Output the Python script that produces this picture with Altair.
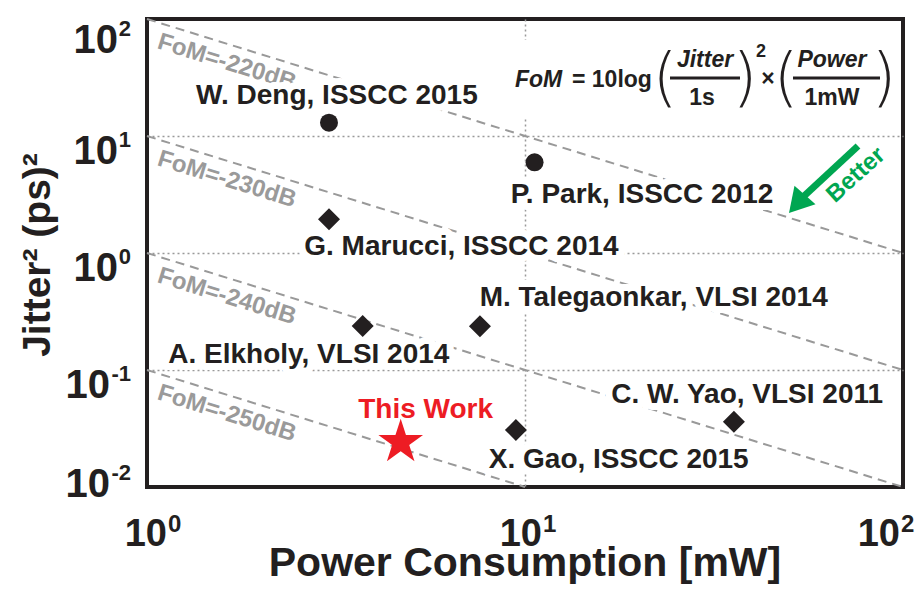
import altair as alt
import pandas as pd

# ---------------- data ----------------
names = ["W. Deng, ISSCC 2015", "P. Park, ISSCC 2012", "G. Marucci, ISSCC 2014",
         "A. Elkholy, VLSI 2014", "M. Talegaonkar, VLSI 2014", "X. Gao, ISSCC 2015",
         "C. W. Yao, VLSI 2011", "This Work"]
power_mw = [3.03, 10.6, 3.03, 3.72, 7.60, 9.46, 35.7, 4.69]
jitter2_ps2 = [13.0, 5.96, 1.94, 0.238, 0.236, 0.0307, 0.0361, 0.0241]
marker = ["circle", "circle", "diamond", "diamond", "diamond", "diamond", "diamond", "star"]
# label anchors (data coordinates)
label_power = [3.18, 20.4, 6.79, 2.68, 21.9, 17.7, 38.7, 5.46]
label_jitter2 = [22.0, 3.13, 1.125, 0.134, 0.412, 0.0170, 0.0611, 0.0455]

fom_db = [-220, -230, -240, -250]
fom_label_power = 1.68

x_ticks = [1, 10, 100]
x_exps = ["0", "1", "2"]
y_ticks = [100, 10, 1, 0.1, 0.01]
y_exps = ["2", "1", "0", "-1", "-2"]

# ---------------- layout / style ----------------
W, H = 756, 468
FONT = "Liberation Sans"
BLACK = "#231F20"
RED = "#ED1C24"
GREEN = "#00A651"
GRAY = "#999999"
STAR = ("M0,-1L0.2245,-0.309L0.951,-0.309L0.363,0.118L0.588,0.809L0,0.382"
        "L-0.588,0.809L-0.363,0.118L-0.951,-0.309L-0.2245,-0.309Z")

P_MIN, P_MAX, J_MIN, J_MAX = 1, 100, 0.01, 100
xs = alt.Scale(type="log", domain=[P_MIN, P_MAX], nice=False)
ys = alt.Scale(type="log", domain=[J_MIN, J_MAX], nice=False)
xaxis = alt.Axis(values=[10], grid=True, labels=False, ticks=False, domain=False,
                 title=None, gridColor=GRAY, gridDash=[2, 3], gridWidth=1.5)
yaxis = alt.Axis(values=[0.1, 1, 10], grid=True, labels=False, ticks=False, domain=False,
                 title=None, gridColor=GRAY, gridDash=[2, 3], gridWidth=1.5)


def X(f):
    return alt.X(f"{f}:Q", scale=xs, axis=xaxis)


def Y(f):
    return alt.Y(f"{f}:Q", scale=ys, axis=yaxis)


pts = pd.DataFrame(dict(name=names, power=power_mw, j2=jitter2_ps2, marker=marker,
                        lp=label_power, lj=label_jitter2))

# iso-FoM lines: Jitter^2[ps^2] * P[mW] = 10^((FoM+240)/10), cut at the plot frame
seg = []
for f in fom_db:
    c = 10 ** ((f + 240) / 10)
    p0 = max(P_MIN, c / J_MAX)
    p1 = min(P_MAX, c / J_MIN)
    seg.append(dict(fom=f, p0=p0, j0=c / p0, p1=p1, j1=c / p1))
fom_seg = pd.DataFrame(seg)
fom_lab = pd.DataFrame(dict(
    fom=fom_db,
    power=[fom_label_power] * len(fom_db),
    j2=[10 ** ((f + 240) / 10) / fom_label_power for f in fom_db],
    text=[f"FoM={f}dB" for f in fom_db]))

layers = []

layers.append(alt.Chart(fom_seg).mark_rule(color=GRAY, strokeWidth=2, strokeDash=[9, 6]).encode(
    x=X("p0"), y=Y("j0"), x2="p1:Q", y2="j1:Q"))

layers.append(alt.Chart(fom_lab).mark_text(font=FONT, fontWeight="bold", fontSize=24, color="#9A9A9A",
                                           angle=17.2, dy=18, align="center", baseline="middle").encode(
    x=X("power"), y=Y("j2"), text="text:N"))

# formula background box
one = alt.Data(values=[{}])
layers.append(alt.Chart(one).mark_rect(color="white").encode(
    x=alt.value(358), x2=alt.value(748), y=alt.value(21), y2=alt.value(99)))


def txt(s, x, y, size, weight="bold", style="normal", align="center", color=BLACK, angle=0,
        baseline="alphabetic", font=FONT):
    return alt.Chart(one).mark_text(text=s, font=font, fontSize=size, fontWeight=weight,
                                    fontStyle=style, align=align, baseline=baseline,
                                    color=color, angle=angle).encode(
        x=alt.value(x), y=alt.value(y))


def bar(x1, x2, y):
    return alt.Chart(one).mark_rule(color=BLACK, strokeWidth=3).encode(
        x=alt.value(x1), x2=alt.value(x2), y=alt.value(y))


PF = "DejaVu Sans"
layers += [
    txt("FoM", 368, 68, 23, style="italic", align="left"),
    txt("= 10log", 425, 68, 23, align="left"),
    txt("(", 518, 80, 64, weight=200, font=PF),
    txt("Jitter", 558, 48, 23, style="italic"),
    bar(523, 593, 59),
    txt("1s", 555, 86, 23),
    txt(")", 598, 80, 64, weight=200, font=PF),
    txt("2", 614, 38, 18),
    txt("×", 621, 67, 23),
    txt("(", 639, 80, 64, weight=200, font=PF),
    txt("Power", 685, 48, 23, style="italic"),
    bar(646, 733, 59),
    txt("1mW", 685, 86, 23),
    txt(")", 737, 80, 64, weight=200, font=PF),
]

# Better arrow
layers.append(alt.Chart(one).mark_rule(color=GREEN, strokeWidth=7).encode(
    x=alt.value(711), y=alt.value(127), x2=alt.value(656), y2=alt.value(178)))
layers.append(alt.Chart(one).mark_point(shape="triangle-up", size=784, filled=True, opacity=1,
                                        color=GREEN, angle=221.3).encode(
    x=alt.value(650), y=alt.value(185)))
layers.append(txt("Better", 709, 156, 24, color=GREEN, angle=318, baseline="middle"))

# point labels: white halo then text
lab_color = alt.condition(alt.datum.name == "This Work", alt.value(RED), alt.value(BLACK))
layers.append(alt.Chart(pts).mark_text(font=FONT, fontWeight="bold", fontSize=28, color="white",
                                       stroke="white", strokeWidth=14, strokeJoin="round",
                                       align="center", baseline="middle").encode(
    x=X("lp"), y=Y("lj"), text="name:N"))
layers.append(alt.Chart(pts).mark_text(font=FONT, fontWeight="bold", fontSize=28,
                                       align="center", baseline="middle").encode(
    x=X("lp"), y=Y("lj"), text="name:N", color=lab_color))

# markers
layers.append(alt.Chart(pts).transform_filter(alt.datum.marker == "circle").mark_point(
    shape="circle", size=324, filled=True, opacity=1, color=BLACK).encode(x=X("power"), y=Y("j2")))
layers.append(alt.Chart(pts).transform_filter(alt.datum.marker == "diamond").mark_point(
    shape="diamond", size=484, filled=True, opacity=1, color=BLACK).encode(x=X("power"), y=Y("j2")))
layers.append(alt.Chart(pts).transform_filter(alt.datum.marker == "star").mark_point(
    shape=STAR, size=2200, filled=True, opacity=1, color=RED).encode(x=X("power"), y=Y("j2")))

# x tick labels 10^n
x_shift = [20, 17, -3]
for v, e, s in zip(x_ticks, x_exps, x_shift):
    d = pd.DataFrame({"v": [v]})
    layers.append(alt.Chart(d).mark_text(text="10", font=FONT, fontWeight="bold", fontSize=38,
                                         align="right", dx=s, color=BLACK).encode(
        x=X("v"), y=alt.value(516)))
    layers.append(alt.Chart(d).mark_text(text=e, font=FONT, fontWeight="bold", fontSize=24,
                                         align="left", dx=s + 1, color=BLACK).encode(
        x=X("v"), y=alt.value(506)))

# y tick labels 10^n
y_center = [8, 2, 2, 2, -16]
for v, e, c in zip(y_ticks, y_exps, y_center):
    d = pd.DataFrame({"v": [v]})
    wexp = 12 if len(e) == 1 else 20
    layers.append(alt.Chart(d).mark_text(text="10", font=FONT, fontWeight="bold", fontSize=40,
                                         align="right", dy=c + 14.3, color=BLACK).encode(
        y=Y("v"), x=alt.value(-17 - wexp)))
    layers.append(alt.Chart(d).mark_text(text=e, font=FONT, fontWeight="bold", fontSize=22,
                                         align="right", dy=c + 1.5, color=BLACK).encode(
        y=Y("v"), x=alt.value(-16)))

# axis titles
layers.append(txt("Power Consumption [mW]", 378, 557, 41))
layers.append(txt("Jitter² (ps)²", -97, 236, 39, angle=270))

chart = alt.layer(*layers).properties(
    width=W, height=H,
    padding={"left": 139, "top": 11, "right": 13, "bottom": 97},
    autosize=alt.AutoSizeParams(type="none"),
).configure_view(stroke=BLACK, strokeWidth=4)

chart.save("out.html", embed_options={"renderer": "svg", "actions": False})
